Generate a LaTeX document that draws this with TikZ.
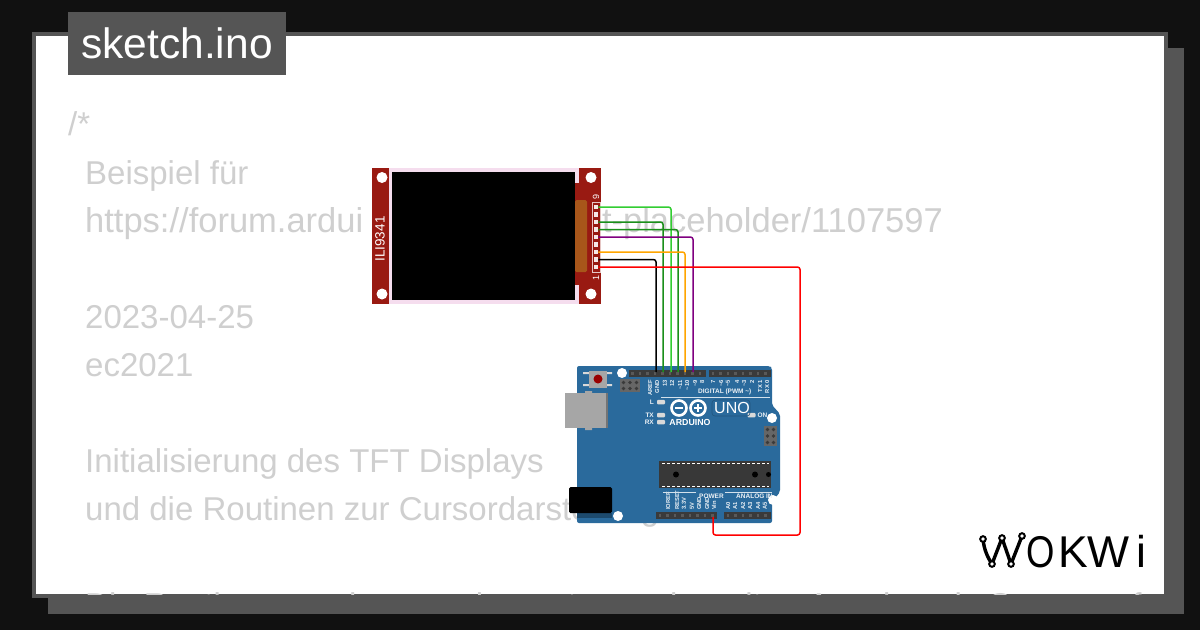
\documentclass[tikz,border=0pt]{standalone}
\usepackage{fontspec}
\setmainfont{Liberation Sans}
\usetikzlibrary{positioning}
\definecolor{backdark}{HTML}{111111}
\definecolor{cardgray}{HTML}{555555}
\definecolor{codegray}{HTML}{CFCFCF}
\definecolor{pcbred}{HTML}{991A12}
\definecolor{screenpink}{HTML}{F5DDEE}
\definecolor{pcbblue}{HTML}{2A6A9C}
\definecolor{headgray}{HTML}{3A3A3A}
\definecolor{usbgray}{HTML}{A6A6A6}
\definecolor{ambercap}{HTML}{A8561A}
\definecolor{chipgray}{HTML}{383838}
\definecolor{wiregreen}{HTML}{32CD32}
\definecolor{wiredark}{HTML}{1A8F1A}
\definecolor{wirepurple}{HTML}{800080}
\definecolor{wireorange}{HTML}{FFA500}
\tikzstyle{codeline} = [anchor=base west, inner sep=0pt, text=codegray, font=\fontsize{33}{33}\selectfont]
\tikzstyle{codewide} = [codeline, font=\fontsize{34.5}{34.5}\selectfont]
\tikzstyle{wire} = [draw, line width=1.5pt, rounded corners=2.5pt]
\tikzstyle{hole} = [circle, fill=white, inner sep=0pt, minimum size=11pt]
\tikzstyle{pin} = [rectangle, fill=white!90!pcbred, inner sep=0pt, minimum size=4.5pt]
\tikzstyle{led} = [rectangle, rounded corners=1pt, fill=white!85!black, inner sep=0pt, minimum width=8pt, minimum height=4.5pt]
\tikzstyle{silk} = [text=white!90!pcbblue, inner sep=0pt, font=\fontsize{6.5}{6.5}\selectfont\bfseries]
\tikzstyle{silkpin} = [silk, rotate=90, font=\fontsize{5.8}{5.8}\selectfont\bfseries]
\tikzstyle{headbox} = [rectangle, fill=headgray, inner sep=0pt, minimum height=7pt]
\begin{document}
\begin{tikzpicture}[x=1pt,y=-1pt]
        \useasboundingbox (0,0) rectangle (1200,630);
        \fill[backdark] (0,0) rectangle (1200,630);
        \fill[cardgray] (48,48) rectangle (1184,614);
        \fill[cardgray] (32,32) rectangle (1168,598);
        \fill[white] (36,36) rectangle (1164,594);

        % code behind the diagram
        \begin{scope}
        \clip (36,36) rectangle (1164,594);
        \node[codeline] (c1) at (68,135) {/*};
        \node[codeline] (c2) at (85,184) {Beispiel für};
        \node[codewide] (c3) at (85,232) {https://forum.ardui};
        \node[codewide, anchor=base east] (c3b) at (943,232) {t-placeholder/1107597};
        \node[codeline] (c4) at (85,328) {2023-04-25};
        \node[codeline] (c5) at (85,376) {ec2021};
        \node[codeline] (c6) at (85,472) {Initialisierung des TFT Displays};
        \node[codeline] (c7) at (85,520) {und die Routinen zur Cursordarstellung};
        \node[codeline] (c8) at (85,616) {Die Routinen werden von der ersten und zweiten Anzeige als Cursor aufgerufen};
        \end{scope}

        % title
        \fill[cardgray] (68,12) rectangle (286,75);
        \node[text=white, inner sep=0pt, anchor=base, font=\fontsize{42.5}{42.5}\selectfont] (title) at (177,58) {sketch.ino};

        % display
        \fill[pcbred] (372,168) rectangle (601,304);
        \fill[screenpink] (388.5,168) rectangle (579,304);
        \fill[pcbred] (575,183) rectangle (579,285);
        \fill[black] (392,172) rectangle (575,300);
        \fill[ambercap, rounded corners=1.5pt] (575,200) rectangle (587,272);
        \node[hole] (h1) at (382,177.5) {};
        \node[hole] (h2) at (591,177.5) {};
        \node[hole] (h3) at (382,294) {};
        \node[hole] (h4) at (591,294) {};
        \node[text=white, inner sep=0pt, rotate=90, font=\fontsize{13.5}{13.5}\selectfont] (ili) at (380,239) {ILI9341};
        \draw[white!75!pcbred, line width=1pt] (592.5,202) rectangle (600,272);
        \foreach \n/\y in {9/207,8/214.5,7/222,6/229.5,5/237,4/244.5,3/252,2/259.5,1/267}
            \node[pin] (p\n) at (596,\y) {};
        \node[text=white, inner sep=0pt, rotate=90, font=\fontsize{9}{9}\selectfont] (n9) at (596,197) {9};
        \node[text=white, inner sep=0pt, rotate=90, font=\fontsize{9}{9}\selectfont] (n1) at (596,278) {1};

        % arduino
        \fill[pcbblue, rounded corners=2pt] (577,366) -- (770,366) -- (772,368) -- (772,405) -- (780,414) -- (780,492) -- (772,502) -- (772,523) -- (577,523) -- cycle;
        \fill[usbgray] (565,393) rectangle (608,428);
        \fill[usbgray!70!black] (606,393) rectangle (608,428);
        \fill[usbgray] (585,391) rectangle (592,393) (585,428) rectangle (592,430);
        \fill[pcbblue!70!black] (577,513) rectangle (612,518);
        \fill[black, rounded corners=1.5pt] (569,487) rectangle (612,513);
        \fill[white!85!black] (583,372) rectangle (590,374) (583,384) rectangle (590,386) (606,372) rectangle (612,374) (606,384) rectangle (612,386);
        \fill[usbgray] (589,371) rectangle (607,388);
        \fill[red!60!black] (598,379) circle (4.5pt);
        \node[hole, minimum size=10pt] (h5) at (622,373) {};
        \node[hole, minimum size=10pt] (h6) at (772,418) {};
        \node[hole, minimum size=10pt] (h7) at (773,500) {};
        \node[hole, minimum size=10pt] (h8) at (618,516) {};

        \node[headbox, minimum width=77pt] (hd1) at (667.5,373.5) {};
        \node[headbox, minimum width=62pt] (hd2) at (740,373.5) {};
        \node[headbox, minimum width=61pt] (hd3) at (686.5,515.5) {};
        \node[headbox, minimum width=47pt] (hd4) at (747.5,515.5) {};
        \foreach \x in {632.5,640,647.5,655,662.5,670,677.5,685,692.5,700,
                        713,720.5,728,735.5,743,750.5,758,765.5}
            \fill[black!65] (\x-1.2,372.3) rectangle (\x+1.2,374.7);
        \foreach \x in {660,667.5,675,682.5,690,697.5,705,712.5,
                        728,735.5,743,750.5,758,765.5}
            \fill[black!65] (\x-1.2,514.3) rectangle (\x+1.2,516.7);

        % arduino silk
        \foreach \t/\x in {AREF/650,GND/657,13/665,12/672,\textasciitilde 11/680,\textasciitilde 10/687,\textasciitilde 9/695,8/702,7/713,\textasciitilde 6/721,\textasciitilde 5/728,4/737,\textasciitilde 3/744,2/752,TX 1/760,RX 0/767}
            \node[silkpin, anchor=east] at (\x,380) {\t};
        \foreach \t/\x in {IOREF/668,RESET/677,3.3V/684,5V/692,GND/699,GND/707,Vin/714,A0/728,A1/735,A2/743,A3/750,A4/758,A5/765}
            \node[silkpin, anchor=west] at (\x,510) {\t};
        \node[silk, anchor=west] (digi) at (698,392) {DIGITAL (PWM \textasciitilde)};
        \node[silk, anchor=west] (power) at (699,496) {POWER};
        \node[silk, anchor=west] (analog) at (736,496) {ANALOG IN};
        \draw[white!80!pcbblue, line width=.6pt] (661,397) -- (770,397);
        \draw[white!80!pcbblue, line width=.6pt] (663,492) -- (696,492) (725,492) -- (772,492);

        \fill[gray!80!black] (620,379) rectangle (640,392);
        \fill[gray!80!black] (764,426) rectangle (777,446);
        \foreach \x in {623.5,630,636.5}
            \foreach \y in {382.5,388.5}
                \fill[headgray] (\x,\y) circle (1.8pt);
        \foreach \x in {767.5,773.5}
            \foreach \y in {429.5,436,442.5}
                \fill[headgray] (\x,\y) circle (1.8pt);
        \node[led] (ledl) at (661,402) {};
        \node[led] (ledtx) at (661,415) {};
        \node[led] (ledrx) at (661,422) {};
        \node[led] (ledon) at (751.5,415) {};
        \node[silk, anchor=east] (ll) at (654,402) {L};
        \node[silk, anchor=east] (ltx) at (654,415) {TX};
        \node[silk, anchor=east] (lrx) at (654,422) {RX};
        \node[silk] (lon) at (762.5,415) {ON};

        % logo
        \draw[white, line width=2.6pt] (679,408) circle (7.5pt) (698,408) circle (7.5pt);
        \draw[white, line width=1.6pt] (675,408) -- (683,408) (694,408) -- (702,408) (698,404) -- (698,412);
        \node[silk, text=white, font=\fontsize{8.8}{8.8}\selectfont\bfseries] (ard) at (690,422) {ARDUINO};
        \draw[pcbblue!80!black, line width=.6pt, rounded corners=3pt] (712,400) rectangle (750,416);
        \node[text=white, inner sep=0pt, font=\fontsize{16}{16}\selectfont] (uno) at (732,408) {UNO};

        % chip
        \fill[chipgray] (659,461) rectangle (771,488);
        \draw[white, line width=.8pt, dash pattern=on 3pt off 2pt] (662,463) -- (769,463) (662,486.5) -- (769,486.5);
        \fill[black] (676,474.5) circle (3pt) (755,474.5) circle (3pt) (768.5,474.5) circle (2.5pt);

        % wires
        \coordinate (g13) at (656,372);
        \coordinate (a13) at (663,372);
        \coordinate (a12) at (671,372);
        \coordinate (a11) at (678,372);
        \coordinate (a10) at (685,372);
        \coordinate (a9) at (693,372);
        \coordinate (vin) at (713,517);
        \coordinate (corner1) at (800,267);
        \coordinate (corner2) at (800,535);
        \coordinate (corner3) at (713,535);
        \draw[wire, wiregreen] (p9) -| (a12);
        \draw[wire, wiredark] (p7) -| (a13);
        \draw[wire, wiredark] (p6) -| (a11);
        \draw[wire, wirepurple] (p5) -| (a9);
        \draw[wire, wireorange] (p3) -| (a10);
        \draw[wire, black] (p2) -| (g13);
        \draw[wire, red] (p1) -- (corner1) -- (corner2) -- (corner3) -- (vin);

        % wokwi mark
        \draw[line width=3.4pt, black, line cap=round, line join=round] (983,539) .. controls (984,550) and (988,558) .. (992,564) -- (1002,538) -- (1011,564) -- (1022,536);
        \foreach \i/\x/\y in {1/983/539,2/1002/538,3/1022/536,4/992/564,5/1011/564}
            \draw[black, fill=white, line width=2pt] (\x,\y) circle (2.8pt);
        \node[text=black, inner sep=0pt, anchor=base west, font=\fontsize{44.5}{44.5}\selectfont] (wok) at (1026,567) {\scalebox{.82}[1]{O}\kern4pt K\kern-1pt W\kern7pt i};
\end{tikzpicture}
\end{document}
